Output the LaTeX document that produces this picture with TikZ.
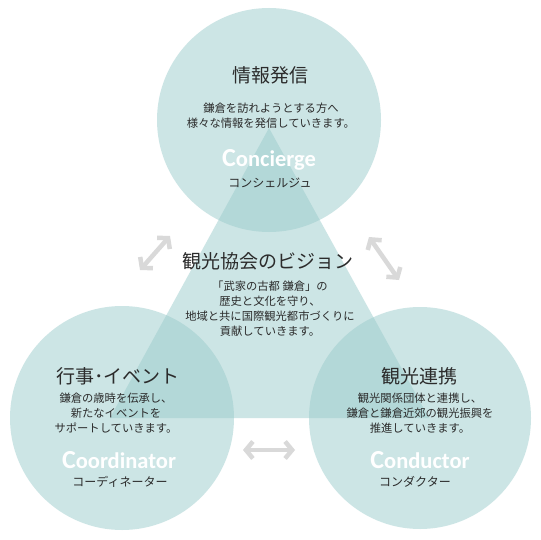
\documentclass[tikz,border=0pt]{standalone}
\usepackage{fontspec}
\setmainfont{Noto Sans CJK JP}
\newfontfamily\capfont{Carlito}
\usetikzlibrary{arrows.meta}
\definecolor{disc}{RGB}{155,204,204}
\definecolor{txt}{RGB}{43,43,43}
\definecolor{arr}{RGB}{217,217,217}
\tikzset{
  title/.style={text=txt, font=\fontsize{19}{22}\selectfont, inner sep=0pt},
  body/.style={text=txt, font=\fontsize{11.3}{15}\selectfont, align=center, inner sep=0pt},
  kana/.style={text=txt, font=\fontsize{12}{14}\selectfont, inner sep=0pt},
  role/.style={text=white, font=\capfont\bfseries\fontsize{22.5}{24}\selectfont, inner sep=0pt},
  gar/.style={draw=arr, line width=4.5pt, {Straight Barb[length=7pt,width=17pt]}-{Straight Barb[length=7pt,width=17pt]}},
}
\newcommand{\capletter}[1]{{\fontsize{26}{26}\selectfont #1}}
\begin{document}
\begin{tikzpicture}[x=1pt,y=-1pt]
\useasboundingbox (0,0) rectangle (540,540);
\fill[white] (0,0) rectangle (540,540);
\begin{scope}[fill=disc, fill opacity=0.5]
  \fill (269,120) circle[radius=112pt];
  \fill (122,418) circle[radius=112pt];
  \fill (420,418) circle[radius=111pt];
  \fill (269,128) -- (110,418) -- (429,418) -- cycle;
\end{scope}
% arrows
\coordinate (a1s) at (140,270); \coordinate (a1e) at (170,236);
\coordinate (a2s) at (369,237); \coordinate (a2e) at (399,280);
\coordinate (a3s) at (243,450); \coordinate (a3e) at (295,450);
\draw[gar] (a1s) -- (a1e);
\draw[gar] (a2s) -- (a2e);
\draw[gar] (a3s) -- (a3e);
% top
\node[title] (t1) at (270,75) {情報発信};
\node[body] (b1) at (271,116) {鎌倉を訪れようとする方へ\\様々な情報を発信していきます。};
\node[role] (r1) at (269,160) {\capletter{C}oncierge};
\node[kana] (k1) at (270,183) {コンシェルジュ};
% vision
\node[title] (t0) at (268,261) {観光協会のビジョン};
\node[body] (b0) at (270,309) {「武家の古都 鎌倉」の\\歴史と文化を守り、\\地域と共に国際観光都市づくりに\\貢献していきます。};
% bottom left
\node[title] (t2) at (118,376) {行事･イベント};
\node[body] (b2) at (116,413) {鎌倉の歳時を伝承し、\\新たなイベントを\\サポートしていきます。};
\node[role] (r2) at (119,460) {\capletter{C}oordinator};
\node[kana] (k2) at (120,482) {コーディネーター};
% bottom right
\node[title] (t3) at (419,376) {観光連携};
\node[body] (b3) at (420,413) {観光関係団体と連携し、\\鎌倉と鎌倉近郊の観光振興を\\推進していきます。};
\node[role] (r3) at (420,460) {\capletter{C}onductor};
\node[kana] (k3) at (415,482) {コンダクター};
\end{tikzpicture}
\end{document}
